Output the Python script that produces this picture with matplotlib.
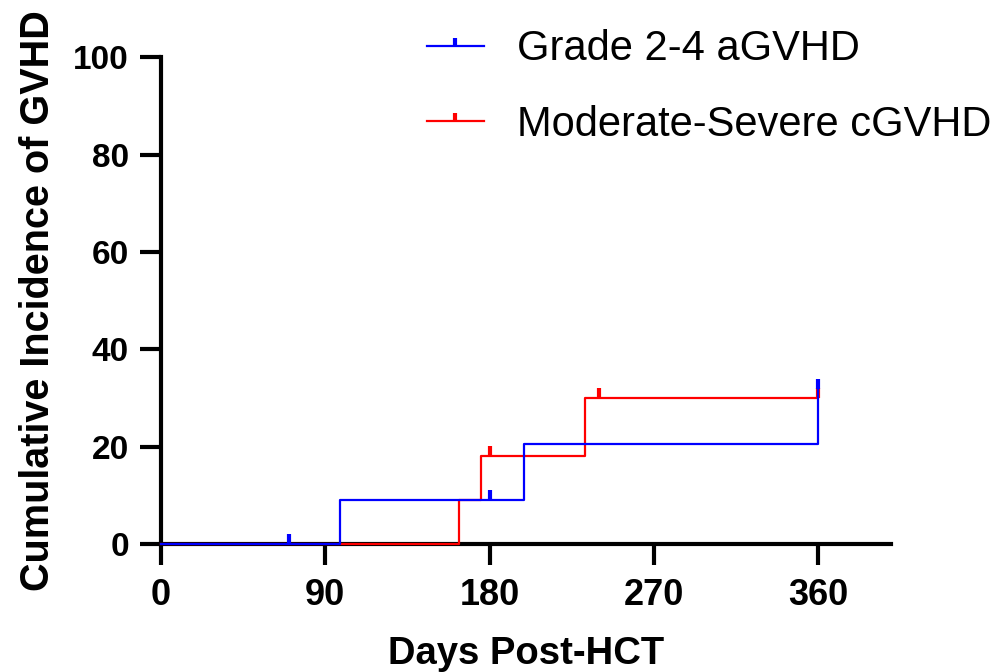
import matplotlib
matplotlib.use("Agg")
import matplotlib.pyplot as plt
from matplotlib.lines import Line2D

plt.rcParams['font.family'] = ['Liberation Sans', 'DejaVu Sans']

### data ###
agvhd_days = [0, 98, 199, 360]
agvhd_inc = [0, 9.09, 20.5, 31.8]
agvhd_cens_days = [70, 180, 360]
agvhd_cens_inc = [0, 9.09, 31.8]

cgvhd_days = [0, 163, 175, 232, 360]
cgvhd_inc = [0, 9.09, 18.2, 30.0, 30.0]
cgvhd_cens_days = [180, 240, 360]
cgvhd_cens_inc = [18.2, 30.0, 30.0]

xticks = [0, 90, 180, 270, 360]
yticks = [0, 20, 40, 60, 80, 100]

# censor tick: a short stroke going up from the curve
tick = [(0, 0), (0, 1)]

fig = plt.figure(figsize=(9.99, 6.72), dpi=100)
ax = fig.add_axes([0.1612, 0.190, 0.731, 0.725])

for days, inc, cd, ci, col in [(cgvhd_days, cgvhd_inc, cgvhd_cens_days, cgvhd_cens_inc, '#ff0000'),
                               (agvhd_days, agvhd_inc, agvhd_cens_days, agvhd_cens_inc, '#0000ff')]:
    ax.step(days, inc, where='post', color=col, lw=1.6, clip_on=False, zorder=3)
    ax.plot(cd, ci, linestyle='none', marker=tick, markersize=14, markeredgewidth=3,
            color=col, clip_on=False, zorder=3)

ax.set_xlim(0, 400)
ax.set_ylim(0, 100)
ax.set_xticks(xticks)
ax.set_yticks(yticks)
for s in ['top', 'right']:
    ax.spines[s].set_visible(False)
for s in ['left', 'bottom']:
    ax.spines[s].set_linewidth(3)
ax.tick_params(length=15, width=3)
ax.tick_params(axis='x', labelsize=26, pad=9)
ax.tick_params(axis='y', labelsize=24, pad=8)
for lab in ax.get_xticklabels() + ax.get_yticklabels():
    lab.set_fontweight('bold')

ax.set_xlabel('Days Post-HCT', fontsize=27.5, fontweight='bold', labelpad=17)
ax.set_ylabel('Cumulative Incidence of GVHD', fontsize=28.5, fontweight='bold', labelpad=12)

handles = [Line2D([0], [0], color='#0000ff', lw=1.6, marker=tick, markersize=12, markeredgewidth=3),
           Line2D([0], [0], color='#ff0000', lw=1.6, marker=tick, markersize=12, markeredgewidth=3)]
fig.legend(handles, ['Grade 2-4 aGVHD', 'Moderate-Severe cGVHD'], loc='upper left',
           bbox_to_anchor=(0.398, 1.0), frameon=False, fontsize=30, numpoints=1,
           handlelength=1.37, handletextpad=0.79, labelspacing=0.86, borderaxespad=0.3)

plt.savefig('out.png', dpi=100)
